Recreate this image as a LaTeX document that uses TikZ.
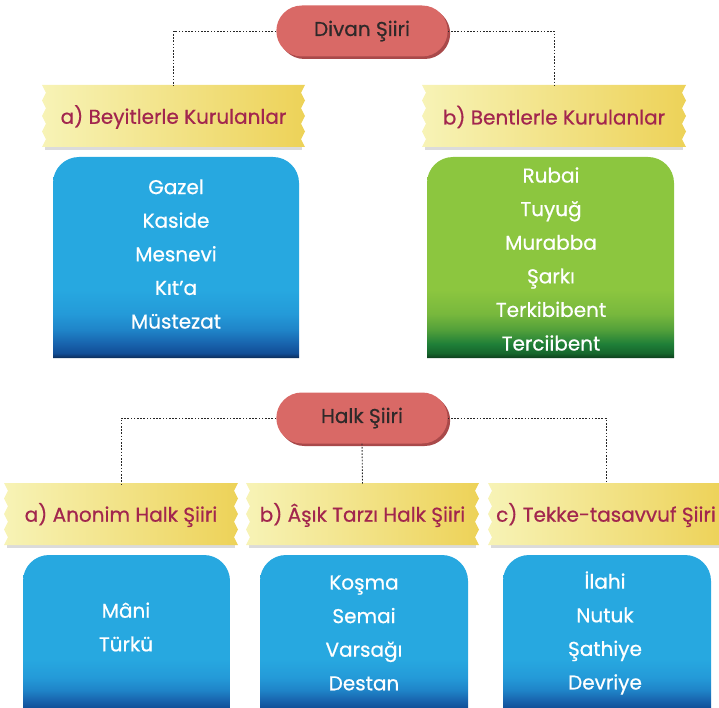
\documentclass[tikz,border=0pt]{standalone}
\usepackage{fontspec}
\setmainfont{Poppins}[FakeBold=0.6]
\usetikzlibrary{shapes.misc,shadows}
\definecolor{pillred}{HTML}{D96966}
\definecolor{pillshade}{HTML}{A9494A}
\definecolor{pilltext}{HTML}{2E2929}
\definecolor{ribbonlight}{HTML}{F7F3B6}
\definecolor{ribbonmid}{HTML}{F5E69A}
\definecolor{ribbondark}{HTML}{EDD258}
\definecolor{ribbontext}{HTML}{A2264E}
\definecolor{bluetop}{HTML}{27A8E0}
\definecolor{bluesoft}{HTML}{249AD8}
\definecolor{bluemid}{HTML}{1F84C8}
\definecolor{bluedark}{HTML}{1862AC}
\definecolor{bluedeep}{HTML}{114E96}
\definecolor{bluenavy}{HTML}{0B2C58}
\definecolor{greentop}{HTML}{8CC63F}
\definecolor{greensoft}{HTML}{78B83D}
\definecolor{greenmid}{HTML}{52A03A}
\definecolor{greendark}{HTML}{1F7F38}
\definecolor{greendeep}{HTML}{16662C}
\definecolor{greennavy}{HTML}{0D3F1D}
\pgfdeclareverticalshading{bluebox}{100bp}{color(0bp)=(bluenavy); color(25bp)=(bluenavy); color(26.2bp)=(bluedeep); color(28.5bp)=(bluedark); color(32bp)=(bluemid); color(36bp)=(bluesoft); color(42bp)=(bluetop); color(100bp)=(bluetop)}
\pgfdeclareverticalshading{greenbox}{100bp}{color(0bp)=(greennavy); color(25bp)=(greennavy); color(26.2bp)=(greendeep); color(28.5bp)=(greendark); color(32bp)=(greenmid); color(36bp)=(greensoft); color(42bp)=(greentop); color(100bp)=(greentop)}
\tikzset{
    pill/.style={rounded rectangle, fill=pillred, text=pilltext, minimum width=178pt, minimum height=51pt,
        font=\fontsize{20}{22}\selectfont, drop shadow={shadow xshift=2.5pt, shadow yshift=-2.5pt, fill=pillshade, opacity=1}},
    link/.style={draw=black!85, line width=0.9pt, dash pattern=on 1.6pt off 1.6pt},
    ribbonfill/.style={left color=ribbonlight, middle color=ribbonmid, right color=ribbondark},
    ribbonlabel/.style={text=ribbontext, font=\fontsize{20}{22}\selectfont, inner sep=0pt},
    itemlist/.style={text=white, align=center, font=\fontsize{20}{33.6}\selectfont},
}
% ribbon: name, x1, y1, x2, y2, text
\newcommand{\ribbon}[6]{%
    \fill[black!14] ({#2+3},#5) rectangle ({#4-3},{#5+3});
    \shade[ribbonfill] (#2,#3) -- (#4,#3)
        \foreach \i in {1,...,8}{ -- ({#4-4*mod(\i,2)},{#3+\i*(#5-#3)/8}) }
        -- (#2,#5)
        \foreach \i in {7,...,0}{ -- ({#2+4*mod(\i,2)},{#3+\i*(#5-#3)/8}) } -- cycle;
    \node[ribbonlabel, minimum width={(#4-#2)*1pt}, minimum height={(#5-#3)*1pt}] (#1) at ({(#2+#4)/2},{(#3+#5)/2+1}) {#6};
}
% list box: x1, y1, x2, y2, shading, radius
\newcommand{\listbox}[6]{%
    \shade[shading=#5] (#1,#4) -- (#1,{#2+#6})
        .. controls (#1,{#2+0.448*#6}) and ({#1+0.448*#6},#2) .. ({#1+#6},#2)
        -- ({#3-#6},#2)
        .. controls ({#3-0.448*#6},#2) and (#3,{#2+0.448*#6}) .. (#3,{#2+#6})
        -- (#3,#4) -- cycle;
}

\begin{document}
\begin{tikzpicture}[x=1pt, y=-1pt]
    \useasboundingbox (0,0) rectangle (719,708);
    \clip (0,0) rectangle (719,708);

    % Divan
    \node[pill] (divan) at (362,31) {Divan Şiiri};
    \ribbon{beyit}{42}{85}{305}{147}{a) Beyitlerle Kurulanlar}
    \ribbon{bent}{422}{85}{686}{147}{b) Bentlerle Kurulanlar}
    \draw[link] (divan.west) -| (beyit.north);
    \draw[link] (divan.east) -| (bent.north);
    \listbox{53}{157}{299}{358}{bluebox}{26}
    \listbox{427}{157}{674}{358}{greenbox}{26}
    \node[itemlist] (beyitlist) at (176,254) {Gazel\\Kaside\\Mesnevi\\Kıt’a\\Müstezat};
    \node[itemlist] (bentlist) at (551,259) {Rubai\\Tuyuğ\\Murabba\\Şarkı\\Terkibibent\\Terciibent};

    % Halk
    \node[pill] (halk) at (362,418) {Halk Şiiri};
    \ribbon{anonim}{4}{483}{238}{545}{a) Anonim Halk Şiiri}
    \ribbon{asik}{246}{483}{479}{545}{b) Âşık Tarzı Halk Şiiri}
    \ribbon{tekke}{488}{483}{724}{545}{c) Tekke-tasavvuf Şiiri}
    \draw[link] (halk.west) -| (anonim.north);
    \draw[link] (halk.south) -- (asik.north);
    \draw[link] (halk.east) -| (tekke.north);
    \listbox{23}{555}{230}{712}{bluebox}{26}
    \listbox{260}{555}{468}{712}{bluebox}{26}
    \listbox{503}{555}{711}{712}{bluebox}{26}
    \node[itemlist] (anonimlist) at (126,627) {Mâni\\Türkü};
    \node[itemlist] (asiklist) at (364,633) {Koşma\\Semai\\Varsağı\\Destan};
    \node[itemlist] (tekkelist) at (605,633) {İlahi\\Nutuk\\Şathiye\\Devriye};
\end{tikzpicture}
\end{document}
